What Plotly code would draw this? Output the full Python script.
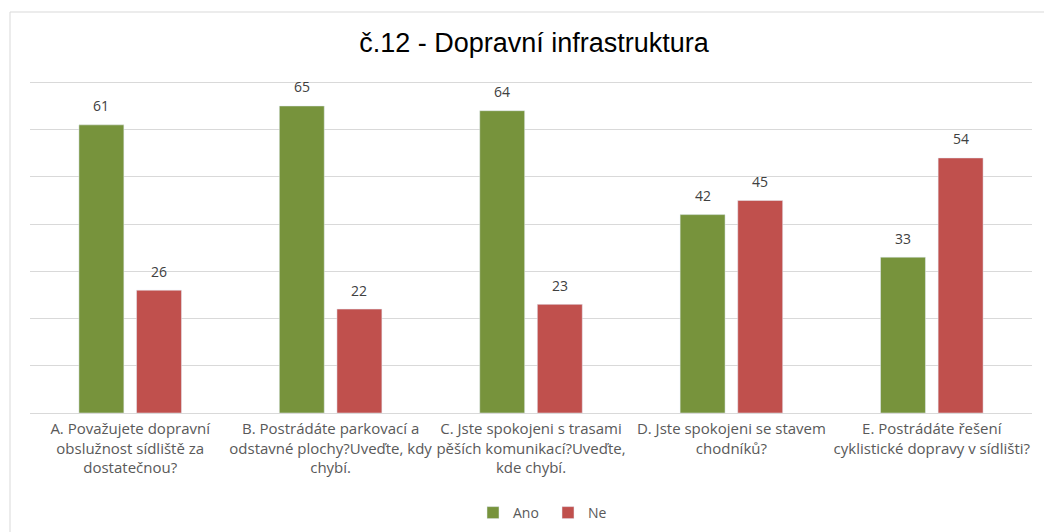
import plotly.graph_objects as go

categories = [
    "A. Považujete dopravní<br>obslužnost sídliště za<br>dostatečnou?",
    "B. Postrádáte parkovací a<br>odstavné plochy?Uveďte, kdy<br>chybí.",
    "C. Jste spokojeni s trasami<br>pěších komunikací?Uveďte,<br>kde chybí.",
    "D. Jste spokojeni se stavem<br>chodníků?",
    "E. Postrádáte řešení<br>cyklistické dopravy v sídlišti?",
]
ano = [61, 65, 64, 42, 33]
ne = [26, 22, 23, 45, 54]
series_names = ["Ano", "Ne"]
colors = ["#77933C", "#C0504D"]

Y_MAX = 70.5
BARGAP = 0.425
BARGROUPGAP = 0.22

# page body has an 8px margin, so the figure is offset by (8, 8)
OFF = 8
W, H = 1052, 532
PX_PER_UNIT = (413 - 82) / 70
L = 30 - OFF
R = W - (1032 - OFF)
B = H - (413 - OFF)
T = int(round(413 - Y_MAX * PX_PER_UNIT)) - OFF
PH = H - T - B
PW = W - L - R

fig = go.Figure()
for name, vals, col in zip(series_names, [ano, ne], colors):
    fig.add_trace(go.Bar(x=categories, y=vals, name=name, marker_color=col))

# value labels, placed over each bar of the group
slot = PW / len(categories) * (1 - BARGAP) / 2
for i, (vals, col) in enumerate(zip([ano, ne], colors)):
    shift = (i - 0.5) * slot
    for c, v in zip(categories, vals):
        fig.add_annotation(x=c, y=v, text=str(v), showarrow=False, xshift=shift,
                           yshift=19, yanchor="middle", xanchor="center",
                           font=dict(family="Open Sans, Liberation Sans", size=14, color="#404040"))

fig.update_layout(
    width=W, height=H,
    paper_bgcolor="white", plot_bgcolor="white",
    margin=dict(l=L, r=R, t=T, b=B, autoexpand=False),
    barmode="group", bargap=BARGAP, bargroupgap=BARGROUPGAP,
    title=dict(text="č.12 - Dopravní infrastruktura", x=(534 - OFF) / W, xanchor="center",
               y=1 - (43 - OFF) / H, yanchor="middle",
               font=dict(family="Liberation Sans Narrow, Liberation Sans, Arial", size=27, color="#000000")),
    showlegend=True,
    legend=dict(orientation="h", x=(548 - OFF - L) / PW, xanchor="center",
                y=-(513 - 413) / PH, yanchor="middle",
                itemwidth=30, entrywidth=30, entrywidthmode="pixels", traceorder="normal",
                font=dict(family="Open Sans, Liberation Sans", size=14, color="#595959")),
    font=dict(family="Open Sans, Liberation Sans", size=13, color="#595959"),
)
fig.update_yaxes(range=[0, Y_MAX], dtick=10, showticklabels=False, gridcolor="#D9D9D9",
                 gridwidth=1, zeroline=False, showline=False, automargin=False)
fig.update_xaxes(showline=True, linecolor="#D9D9D9", linewidth=1, ticks="", automargin=False,
                 ticklabelstandoff=2,
                 tickfont=dict(family="Open Sans, Liberation Sans", size=15, color="#595959"))
fig.add_shape(type="rect", xref="paper", yref="paper",
              x0=(10 - OFF - L) / PW, x1=1.1, y0=-0.5, y1=(413 - 12) / PH,
              line=dict(color="#D9D9D9", width=1), fillcolor="rgba(0,0,0,0)", layer="below")

fig.write_html("out.html")
